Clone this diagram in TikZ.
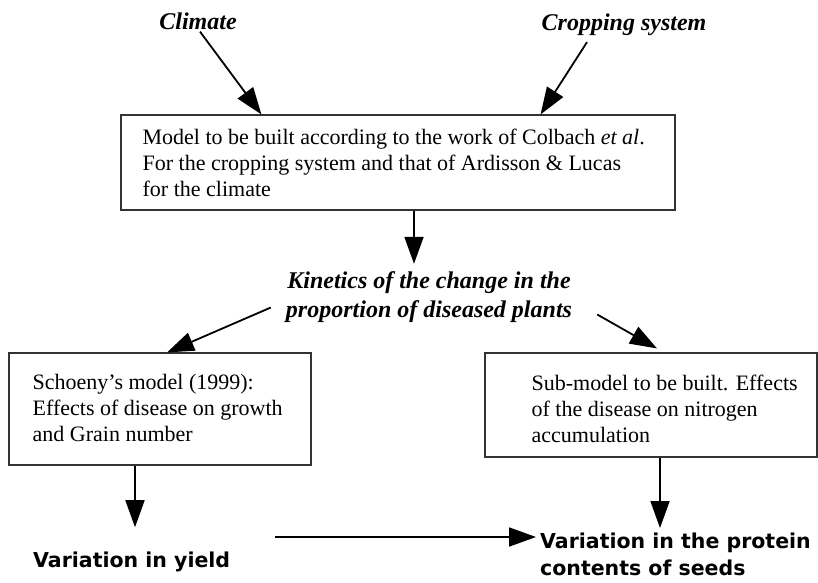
\documentclass[tikz,border=0pt]{standalone}
\usepackage{fontspec}
\setmainfont{Liberation Serif}
\newfontfamily\labelfont{DejaVu Sans}
\usetikzlibrary{arrows.meta, positioning, calc}

\begin{document}
\begin{tikzpicture}[x=1pt, y=-1pt,
  every node/.style={inner sep=0pt},
  box/.style={draw, line width=1.1pt, draw=black!80},
  boxtext/.style={font=\fontsize{22}{26}\selectfont, align=left},
  factor/.style={font=\fontsize{24}{29}\selectfont\bfseries\itshape},
  result/.style={font=\fontsize{20.5}{27}\selectfont\labelfont\bfseries, align=left},
  flow/.style={-{Triangle[length=27pt, width=19pt]}, line width=1.8pt}]
  \useasboundingbox (0,0) rectangle (818,582);
  \node[factor] (climate) at (198,21) {Climate};
  \node[factor] (crop) at (624,25) {Cropping system};
  \node[box, minimum width=554pt, minimum height=95pt] (model) at (398,162.5) {};
  \node[boxtext, anchor=west] (modeltext) at ([xshift=22pt]model.west)
    {Model to be built according to the work of Colbach \textit{et al}.\\
     For the cropping system and that of Ardisson \& Lucas\\
     for the climate};
  \node[factor, align=center] (kin) at (429,297.5) {Kinetics of the change in the\\proportion of diseased plants};
  \node[box, minimum width=302pt, minimum height=112pt] (schoeny) at (160,409) {};
  \node[boxtext, anchor=west] (schoenytext) at ([xshift=24pt, yshift=1pt]schoeny.west)
    {Schoeny's model (1999):\\Effects of disease on growth\\and Grain number};
  \node[box, minimum width=332pt, minimum height=104pt] (sub) at (651,405) {};
  \node[boxtext, anchor=west] (subtext) at ([xshift=47pt, yshift=-4pt]sub.west)
    {Sub-model to be built. Effects\\of the disease on nitrogen\\accumulation};
  \node[result, anchor=base west] (yield) at (33,567) {Variation in yield};
  \node[result, anchor=north west] (protein) at (540,533) {Variation in the protein\\contents of seeds};
  \coordinate (yieldtip) at ([xshift=-4pt, yshift=-4pt]protein.north west);
  % arrows
  \draw[flow] ([xshift=2pt, yshift=-2pt]climate.south) -- ([xshift=141pt]model.north west);
  \draw[flow] ([xshift=-37pt, yshift=-6pt]crop.south) -- ([xshift=-135pt]model.north east);
  \draw[flow] ([xshift=16pt]model.south) -- ([xshift=16pt, yshift=8pt]model.south |- kin.north);
  \draw[flow] ($(kin.west)+(-15,10)$) -- ([xshift=7pt]schoeny.north);
  \draw[flow] ($(kin.east)+(25,17)$) -- ([xshift=6pt, yshift=4pt]sub.north);
  \draw[flow] ([xshift=-25pt]schoeny.south) -- ([xshift=-25pt, yshift=24pt]schoeny.south |- yield.north);
  \draw[flow] ([xshift=9pt]sub.south) -- ([xshift=9pt, yshift=5pt]sub.south |- protein.north);
  \draw[flow] ([xshift=45pt]yield.east |- yieldtip) -- (yieldtip);
\end{tikzpicture}
\end{document}
